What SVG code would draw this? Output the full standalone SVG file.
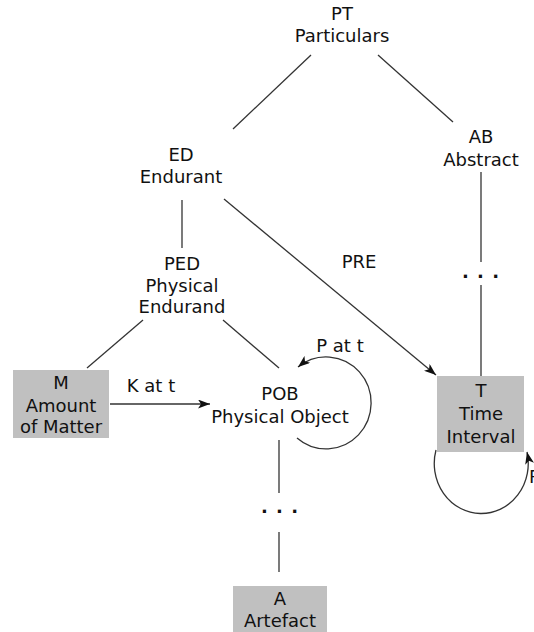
<svg xmlns="http://www.w3.org/2000/svg" width="534" height="632" viewBox="0 0 534 632">
<style>
text{font-family:"DejaVu Sans","Liberation Sans",sans-serif;font-size:18px;fill:#111;text-anchor:middle}
.c line,.c path{stroke:#333;stroke-width:1.3;fill:none}
.box{fill:#c0c0c0}
.dots{font-weight:bold;letter-spacing:1px}
</style>
<defs>
<marker id="ah" viewBox="0 0 12 9" refX="12" refY="4.5" markerWidth="12" markerHeight="9" markerUnits="userSpaceOnUse" orient="auto">
<path d="M0,0 L12,4.5 L0,9 L3,4.5 z" fill="#111"/>
</marker>
</defs>
<rect width="534" height="632" fill="#fff"/>
<g class="c" id="connectors">
<line x1="311" y1="55" x2="233" y2="129"/>
<line x1="378" y1="55" x2="453" y2="122"/>
<line x1="481" y1="172" x2="481" y2="262"/>
<line x1="481" y1="285" x2="481" y2="376"/>
<line x1="182" y1="200" x2="182" y2="248"/>
<line x1="143" y1="320" x2="87" y2="368"/>
<line x1="223" y1="320" x2="279" y2="368"/>
<line x1="224" y1="199" x2="436" y2="375" marker-end="url(#ah)"/>
<line x1="110" y1="404" x2="210" y2="404" marker-end="url(#ah)"/>
<path d="M297,438 A45,46 0 1 0 298,367" marker-end="url(#ah)"/>
<path d="M436,450 A47,50 0 1 0 527,452" marker-end="url(#ah)"/>
<line x1="279" y1="440" x2="279" y2="493"/>
<line x1="279" y1="532" x2="279" y2="572"/>
<text x="359" y="268" style="fill:#111;stroke:none">PRE</text>
<text x="151" y="392" style="fill:#111;stroke:none">K at t</text>
<text x="340" y="352" style="fill:#111;stroke:none">P at t</text>
<text x="529" y="483" style="fill:#111;stroke:none;text-anchor:start">P</text>
<text class="dots" x="481" y="278" style="fill:#111;stroke:none">. . .</text>
<text class="dots" x="280" y="513" style="fill:#111;stroke:none">. . .</text>
</g>
<g id="PT"><text x="342" y="20">PT</text><text x="342" y="42">Particulars</text></g>
<g id="AB"><text x="481" y="143">AB</text><text x="481" y="166">Abstract</text></g>
<g id="ED"><text x="181" y="161">ED</text><text x="181" y="183">Endurant</text></g>
<g id="PED"><text x="182" y="270">PED</text><text x="182" y="292">Physical</text><text x="182" y="313">Endurand</text></g>
<g id="M"><rect class="box" x="13" y="370" width="96" height="68"/><text x="61" y="389">M</text><text x="61" y="412">Amount</text><text x="61" y="433">of Matter</text></g>
<g id="POB"><text x="280" y="400">POB</text><text x="280" y="423">Physical Object</text></g>
<g id="T"><rect class="box" x="437" y="376" width="87" height="76"/><text x="481" y="397">T</text><text x="481" y="420">Time</text><text x="481" y="443">Interval</text></g>
<g id="A"><rect class="box" x="233" y="586" width="94" height="46"/><text x="280" y="605">A</text><text x="280" y="627">Artefact</text></g>
</svg>
